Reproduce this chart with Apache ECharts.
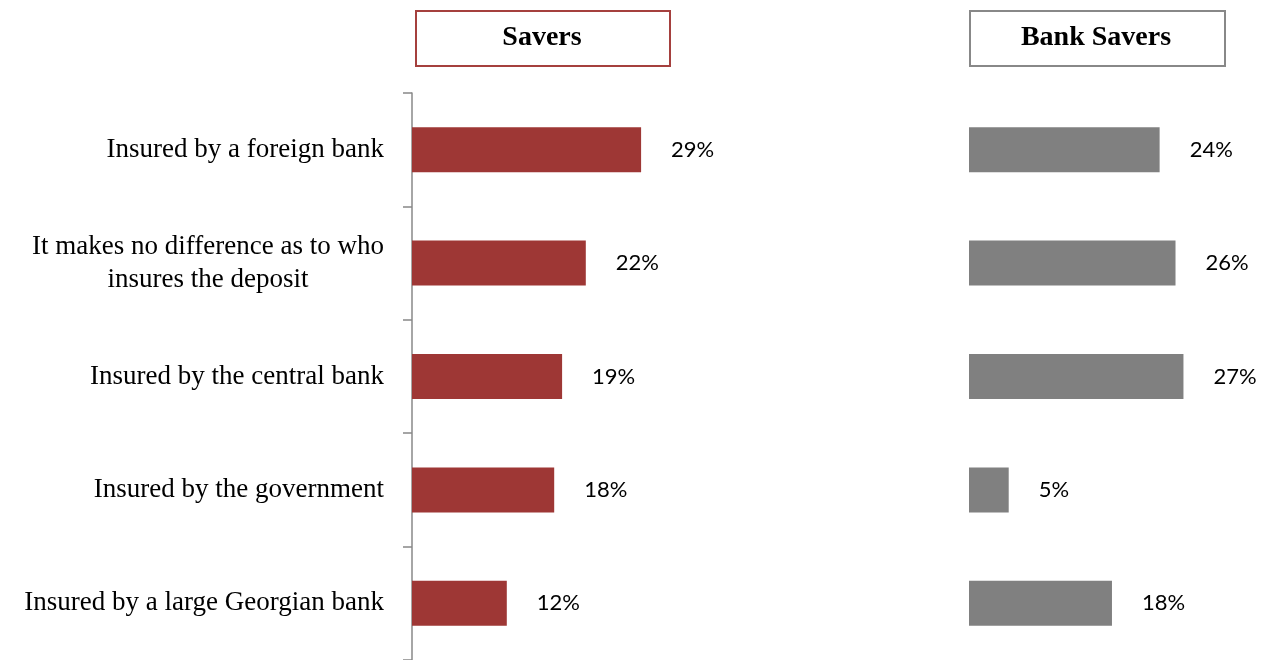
<!DOCTYPE html>
<html><head><meta charset="utf-8">
<script src="https://cdn.jsdelivr.net/npm/echarts@6/dist/echarts.min.js"></script>
<style>html,body{margin:0;padding:0;background:#fff}#c{width:1264px;height:660px}</style>
</head><body><div id="c"></div>
<script>
const categories = ["Insured by a foreign bank", "It makes no difference as to who\ninsures the deposit", "Insured by the central bank", "Insured by the government", "Insured by a large Georgian bank"];
const savers = [29, 22, 19, 18, 12];
const bankSavers = [24, 26, 27, 5, 18];
const panelTitles = ["Savers", "Bank Savers"];

const chart = echarts.init(document.getElementById('c'), null, {renderer: 'canvas'});
const labelStyle = {show: true, position: 'right', distance: 30, formatter: '{c}%', fontFamily: 'Lato, "Open Sans", sans-serif', fontSize: 22, color: '#000'};
const catFont = {fontFamily: '"Liberation Serif", serif', fontSize: 27, color: '#000', lineHeight: 33};
chart.setOption({
  animation: false,
  grid: [
    {left: 412, top: 93, width: 395, height: 569},
    {left: 969, top: 93, width: 278, height: 569}
  ],
  xAxis: [
    {gridIndex: 0, type: 'value', min: 0, max: 50, show: false},
    {gridIndex: 1, type: 'value', min: 0, max: 35, show: false}
  ],
  yAxis: [
    {gridIndex: 0, type: 'category', data: categories, inverse: true,
     axisLine: {show: true, lineStyle: {color: '#888', width: 1.5}},
     axisTick: {show: true, length: 9, lineStyle: {color: '#888', width: 1.5}},
     axisLabel: Object.assign({margin: 28,
       formatter: function (v) {
         if (v.indexOf('\n') < 0) return v;
         return v.split('\n').map(function (s) { return '{m|' + s + '}'; }).join('\n');
       },
       rich: {m: Object.assign({width: 352, align: 'center'}, catFont)}
     }, catFont)},
    {gridIndex: 1, type: 'category', data: categories, inverse: true, show: false}
  ],
  series: [
    {type: 'bar', xAxisIndex: 0, yAxisIndex: 0, data: savers, barWidth: 45, itemStyle: {color: '#9E3735'}, label: labelStyle},
    {type: 'bar', xAxisIndex: 1, yAxisIndex: 1, data: bankSavers, barWidth: 45, itemStyle: {color: '#808080'}, label: labelStyle}
  ],
  graphic: [
    {type: 'rect', left: 415, top: 10, shape: {width: 254, height: 55}, style: {fill: '#fff', stroke: '#A5403E', lineWidth: 2}},
    {type: 'text', x: 542, y: 38, style: {text: panelTitles[0], font: 'bold 28px "Liberation Serif", serif', fill: '#000', textAlign: 'center', textVerticalAlign: 'middle'}},
    {type: 'rect', left: 969, top: 10, shape: {width: 255, height: 55}, style: {fill: '#fff', stroke: '#888', lineWidth: 2}},
    {type: 'text', x: 1096, y: 38, style: {text: panelTitles[1], font: 'bold 28px "Liberation Serif", serif', fill: '#000', textAlign: 'center', textVerticalAlign: 'middle'}}
  ]
});
</script></body></html>
